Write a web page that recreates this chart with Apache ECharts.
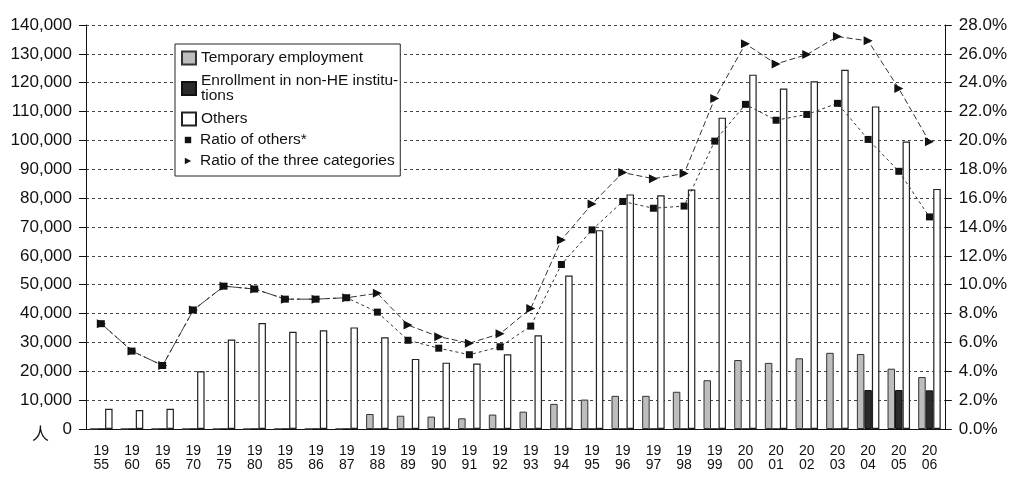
<!DOCTYPE html>
<html>
<head>
<meta charset="utf-8">
<script src="https://cdn.jsdelivr.net/npm/echarts@6/dist/echarts.min.js"></script>
<style>
  html, body { margin: 0; padding: 0; background: #fff; }
  #main { width: 1010px; height: 479px; }
</style>
</head>
<body>
<div id="main"></div>
<script>
let years = ["1955", "1960", "1965", "1970", "1975", "1980", "1985", "1986", "1987", "1988",
  "1989", "1990", "1991", "1992", "1993", "1994", "1995", "1996", "1997", "1998",
  "1999", "2000", "2001", "2002", "2003", "2004", "2005", "2006"];

// number of people
let temporary = [0, 0, 0, 0, 0, 0, 0, 0, 0, 5200, 4600, 4300, 3700, 5000, 6000, 8700,
  10200, 11500, 11500, 12900, 16900, 23900, 22900, 24500, 26400, 26000, 20900, 18000];
let enrollment = [0, 0, 0, 0, 0, 0, 0, 0, 0, 0, 0, 0, 0, 0, 0, 0,
  0, 0, 0, 0, 0, 0, 0, 0, 0, 13500, 13500, 13400];
let others = [7000, 6600, 7000, 20000, 31000, 36700, 33700, 34200, 35200, 31800, 24300, 23000,
  22700, 25900, 32500, 53200, 68900, 81300, 81000, 83000, 107900, 122800, 118000, 120500,
  124500, 111800, 99600, 83200];

// percent
let ratioOthers = [7.3, 5.4, 4.4, 8.25, 9.9, 9.7, 9.0, 9.0, 9.1, 8.1, 6.15, 5.6, 5.15, 5.7,
  7.13, 11.4, 13.8, 15.77, 15.3, 15.45, 19.95, 22.5, 21.4, 21.8, 22.57, 20.07, 17.86, 14.7];
let ratioThree = [7.3, 5.4, 4.4, 8.25, 9.9, 9.7, 9.0, 9.0, 9.1, 9.4, 7.2, 6.4, 5.95, 6.6,
  8.35, 13.1, 15.6, 17.77, 17.35, 17.7, 22.9, 26.7, 25.3, 25.95, 27.2, 26.9, 23.6, 19.9];

let font = "'Liberation Sans', Arial, sans-serif";
let myChart = echarts.init(document.getElementById("main"));

let option = {
  animation: false,
  textStyle: { fontFamily: font, color: "#111" },
  grid: { left: 86, right: 65, top: 25, bottom: 50 },
  legend: [
    {
      orient: "vertical",
      left: 175,
      top: 44,
      padding: [6, 2, 49, 6],
      icon: "rect",
      itemWidth: 14,
      itemHeight: 13,
      itemGap: 7,
      selectedMode: false,
      backgroundColor: "#fff",
      borderColor: "#222",
      borderWidth: 1,
      textStyle: { fontSize: 15.5, lineHeight: 15, color: "#111", fontFamily: font },
      formatter: function (name) {
        if (name === "Enrollment in non-HE institutions") {
          return "Enrollment in non-HE institu-\ntions";
        }
        return name;
      },
      data: ["Temporary employment", "Enrollment in non-HE institutions", "Others"],
    },
    {
      orient: "vertical",
      left: 181,
      top: 132,
      padding: 0,
      z: 6,
      itemWidth: 14,
      itemHeight: 8,
      itemGap: 5,
      selectedMode: false,
      lineStyle: { width: 0, color: "rgba(0,0,0,0)" },
      textStyle: { fontSize: 15.5, lineHeight: 15, color: "#111", fontFamily: font },
      data: ["Ratio of others*", "Ratio of the three categories"],
    },
  ],
  xAxis: {
    type: "category",
    data: years,
    axisLine: { lineStyle: { color: "#111", width: 1 } },
    axisTick: { interval: 0, length: 7, lineStyle: { color: "#111" } },
    axisLabel: {
      interval: 0,
      margin: 15,
      fontSize: 14,
      lineHeight: 14,
      color: "#111",
      formatter: function (v) {
        return v.slice(0, 2) + "\n" + v.slice(2);
      },
    },
  },
  yAxis: [
    {
      type: "value",
      min: 0,
      max: 140000,
      interval: 10000,
      axisLine: { show: true, lineStyle: { color: "#111" } },
      axisTick: { show: true, length: 7, lineStyle: { color: "#111" } },
      axisLabel: {
        margin: 14,
        fontSize: 17,
        color: "#111",
        formatter: function (v) {
          return v.toLocaleString("en-US");
        },
      },
      splitLine: { show: true, lineStyle: { color: "#444", type: [3, 3], width: 1 } },
    },
    {
      type: "value",
      min: 0,
      max: 28,
      interval: 2,
      axisLine: { show: true, lineStyle: { color: "#111" } },
      axisTick: { show: true, length: 7, lineStyle: { color: "#111" } },
      axisLabel: {
        margin: 14,
        fontSize: 17,
        color: "#111",
        formatter: function (v) {
          return v.toFixed(1) + "%";
        },
      },
      splitLine: { show: false },
    },
  ],
  graphic: [
    {
      type: "text",
      left: 32,
      top: 425,
      style: { text: "人", fontSize: 17, fill: "#111", fontFamily: "'Noto Sans CJK SC', sans-serif" },
    },
  ],
  series: [
    {
      name: "Temporary employment",
      type: "bar",
      barWidth: 7.5,
      barGap: "0%",
      data: temporary,
      itemStyle: { color: "#bdbdbd", borderColor: "#333", borderWidth: 1 },
    },
    {
      name: "Enrollment in non-HE institutions",
      type: "bar",
      barWidth: 7.5,
      barGap: "0%",
      data: enrollment,
      itemStyle: { color: "#2b2b2b", borderColor: "#111", borderWidth: 1 },
    },
    {
      name: "Others",
      type: "bar",
      barWidth: 7.5,
      barGap: "0%",
      data: others,
      itemStyle: { color: "#fff", borderColor: "#222", borderWidth: 1.2 },
    },
    {
      name: "Ratio of the three categories",
      type: "line",
      yAxisIndex: 1,
      data: ratioThree,
      symbol: "triangle",
      symbolSize: 9,
      symbolRotate: -90,
      itemStyle: { color: "#111" },
      lineStyle: { color: "#333", width: 1, type: [6, 3] },
    },
    {
      name: "Ratio of others*",
      type: "line",
      yAxisIndex: 1,
      data: ratioOthers,
      symbol: "rect",
      symbolSize: 7,
      itemStyle: { color: "#111" },
      lineStyle: { color: "#333", width: 1, type: [3, 3] },
    },
  ],
};
myChart.setOption(option);
</script>
</body>
</html>
